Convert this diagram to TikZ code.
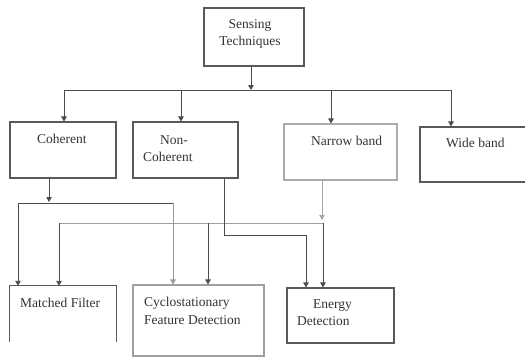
\documentclass[tikz,border=0pt]{standalone}
\usepackage{fontspec}
\setmainfont{Liberation Serif}
\usetikzlibrary{arrows.meta}
\tikzset{
  box/.style={draw=gray!70!black, line width=1.1pt, inner sep=0pt, fill=none},
  lbl/.style={inner sep=0pt, align=left, anchor=west, text=black!80, font=\fontsize{13.5}{17.5}\selectfont},
  conn/.style={draw=gray!60!black, line width=0.9pt},
  arr/.style={conn, -{Triangle[length=5pt,width=5.5pt]}}
}
\begin{document}
\begin{tikzpicture}[x=1pt,y=-1pt]
\useasboundingbox[fill=white] (0,0) rectangle (525,357);
\begin{scope}
\clip (0,0) rectangle (525,357);
% boxes
\node[box, minimum width=100pt, minimum height=58pt] (ST) at (254,37) {};
\node[box, minimum width=106pt, minimum height=56pt] (Coh) at (63,150) {};
\node[box, minimum width=105pt, minimum height=56pt] (NC) at (185.5,150) {};
\node[box, minimum width=113pt, minimum height=56pt, draw=gray!65] (NB) at (340.5,152) {};
\node[box, minimum width=108pt, minimum height=55pt] (WB) at (474,154.5) {};
\node[inner sep=0pt, minimum width=106pt, minimum height=56pt] (MF) at (63,314) {};
\draw[box] (MF.south west) -- (MF.north west) -- (MF.north east) -- (MF.south east);
\node[box, minimum width=131pt, minimum height=71pt, draw=gray!75] (CY) at (198.5,320.5) {};
\node[box, minimum width=107pt, minimum height=55pt] (EN) at (340.5,315.5) {};
\end{scope}
% texts
\node[lbl, align=center, anchor=center] (tST) at (250,34) {Sensing\\Techniques};
\node[lbl] (tCoh) at (37,139) {Coherent};
\node[lbl] (tNC) at (143,148.5) {\hspace*{17pt}Non-\\Coherent};
\node[lbl] (tNB) at (311,141) {Narrow band};
\node[lbl] (tWB) at (446,143) {Wide band};
\node[lbl] (tMF) at (20,303) {Matched Filter};
\node[lbl] (tCY) at (144,311) {Cyclostationary\\Feature Detection};
\node[lbl] (tEN) at (297,312.5) {\hspace*{16pt}Energy\\Detection};
% top level bus
\coordinate (b0) at (251,90);
\coordinate (bL) at (64,90);
\coordinate (b1) at (181,90);
\coordinate (b2) at (331,90);
\coordinate (bR) at (451,90);
\draw[arr] (b0 |- ST.south) -- (b0);
\draw[conn] (bL) -- (bR);
\draw[arr] (bL) -- (bL |- Coh.north);
\draw[arr] (b1) -- (b1 |- NC.north);
\draw[arr] (b2) -- (b2 |- NB.north);
\draw[arr] (bR) -- (bR |- WB.north);
% coherent branch
\coordinate (c0) at (49,202);
\coordinate (cL) at (18,203);
\coordinate (cR) at (173,203);
\draw[arr] (c0 |- Coh.south) -- (c0);
\draw[conn] (cL) -- (cR);
\draw[arr] (cL) -- (cL |- MF.north);
\draw[arr, draw=gray!80] (cR) -- (cR |- CY.north);
% narrow band branch
\coordinate (n0) at (322,220);
\coordinate (nL) at (59,223);
\coordinate (nM) at (208,223);
\coordinate (nR) at (323,223);
\draw[arr, draw=gray!70, fill=gray!60!black] (n0 |- NB.south) -- (n0);
\draw[conn, draw=gray!75] (nL) -- (nR);
\draw[arr] (nL) -- (nL |- MF.north);
\draw[arr] (nM) -- (nM |- CY.north);
\draw[arr] (nR) -- (nR |- EN.north);
% non-coherent branch
\coordinate (k0) at (224,235);
\coordinate (k1) at (306,235);
\draw[arr] (k0 |- NC.south) -- (k0) -- (k1) -- (k1 |- EN.north);
\end{tikzpicture}
\end{document}
